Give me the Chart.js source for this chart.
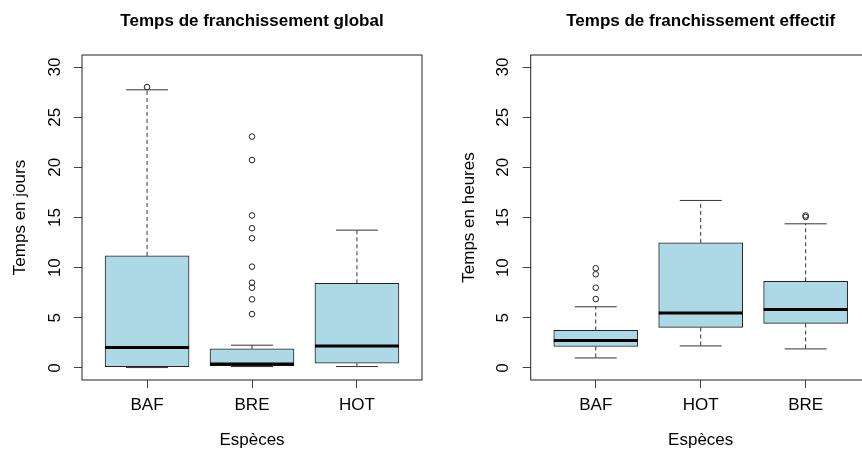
<!DOCTYPE html>
<html><head><meta charset="utf-8">
<script src="https://cdn.jsdelivr.net/npm/chart.js@4.4.0/dist/chart.umd.min.js"></script>
<style>
html,body{margin:0;padding:0;background:#fff;overflow:hidden;width:862px;height:450px}
#wrap{position:relative;width:862px;height:450px;overflow:hidden;background:#fff}
.box{position:absolute;top:0;height:450px}
</style></head><body>
<div id="wrap">
<div class="box" style="left:0;width:431px"><canvas id="c1" width="431" height="450"></canvas></div>
<div class="box" style="left:431px;width:449px"><canvas id="c2" width="449" height="450"></canvas></div>
</div>
<script>
// ---- data ----
const yTicks = [0, 5, 10, 15, 20, 25, 30];

// Panel 1 : Temps de franchissement global (jours)
const catsGlobal = ['BAF', 'BRE', 'HOT'];
const lowGlobal  = [0.04, 0.14, 0.14];
const q1Global   = [0.14, 0.24, 0.47];
const medGlobal  = [2.04, 0.40, 2.20];
const q3Global   = [11.17, 1.90, 8.44];
const highGlobal = [27.73, 2.27, 13.74];
const outBAFGlobal = [28.0];
const outBREGlobal = [23.07, 20.73, 15.2, 13.93, 12.93, 10.1, 8.5, 8.0, 6.84, 5.37];
const outHOTGlobal = [];

// Panel 2 : Temps de franchissement effectif (heures)
const catsEff = ['BAF', 'HOT', 'BRE'];
const lowEff  = [1.0, 2.2, 1.9];
const q1Eff   = [2.14, 4.04, 4.44];
const medEff  = [2.74, 5.47, 5.84];
const q3Eff   = [3.74, 12.47, 8.64];
const highEff = [6.1, 16.7, 14.37];
const outBAFEff = [6.87, 8.0, 9.34, 9.94];
const outHOTEff = [];
const outBREEff = [15.05, 15.2];

// ---- drawing ----
const FONT = "'Liberation Sans', Arial, Helvetica, sans-serif";
Chart.defaults.font.family = FONT;
Chart.defaults.color = '#000';

const framePlugin = {
  id: 'frame',
  afterDatasetsDraw(chart) {
    const {ctx, chartArea: a} = chart;
    ctx.save();
    ctx.strokeStyle = '#222';
    ctx.lineWidth = 1;
    ctx.strokeRect(a.left, a.top, a.right - a.left, a.bottom - a.top);
    ctx.restore();
  }
};

function seg(points, dash, width, order, color) {
  return {
    type: 'line', data: points, borderColor: color || '#333', borderWidth: width || 1,
    borderDash: dash || [], pointRadius: 0, fill: false, tension: 0,
    order: order === undefined ? 5 : order
  };
}

function makeChart(id, cats, low, q1, med, q3, high, outs, title, ytitle, padLeft, padRight) {
  const xs = cats.map((c, i) => i + 1);
  const datasets = [];
  datasets.push({
    type: 'bar',
    data: xs.map((x, i) => ({x: x, y: [q1[i], q3[i]]})),
    backgroundColor: '#ADD8E6', borderColor: '#222', borderWidth: 1,
    borderSkipped: false, barThickness: 84, order: 10
  });
  xs.forEach((x, i) => {
    datasets.push(seg([{x: x, y: q3[i]}, {x: x, y: high[i]}], [4, 3]));
    datasets.push(seg([{x: x, y: q1[i]}, {x: x, y: low[i]}], [4, 3]));
    datasets.push(seg([{x: x - 0.2, y: high[i]}, {x: x + 0.2, y: high[i]}]));
    datasets.push(seg([{x: x - 0.2, y: low[i]}, {x: x + 0.2, y: low[i]}]));
    datasets.push(seg([{x: x - 0.4, y: med[i]}, {x: x + 0.4, y: med[i]}], [], 3, 1, '#000'));
  });
  datasets.push({
    type: 'scatter',
    data: outs.flatMap((arr, i) => arr.map(v => ({x: xs[i], y: v}))),
    pointStyle: 'circle', pointRadius: 2.8, borderColor: '#222', borderWidth: 1,
    backgroundColor: 'rgba(0,0,0,0)', order: 0
  });

  return new Chart(document.getElementById(id), {
    type: 'bar',
    data: {datasets},
    plugins: [framePlugin],
    options: {
      responsive: false, animation: false, devicePixelRatio: 1,
      layout: {padding: {left: padLeft, right: padRight, top: 0, bottom: 0}},
      plugins: {
        legend: {display: false}, tooltip: {enabled: false},
        title: {
          display: true, text: title, fullSize: false, color: '#000',
          font: {size: 17, weight: 'bold', family: FONT},
          padding: {top: 11.6, bottom: 23}
        }
      },
      scales: {
        x: {
          type: 'linear', min: 0.38, max: 3.62, offset: false,
          afterBuildTicks: s => { s.ticks = xs.map(v => ({value: v})); },
          afterFit: s => { s.height = 70; },
          ticks: {callback: (v, i) => cats[i], font: {size: 17}, color: '#000', padding: 7.6,
                  maxRotation: 0, autoSkip: false},
          grid: {display: true, drawOnChartArea: false, drawTicks: true, tickLength: 8,
                 color: '#444', offset: false},
          border: {display: false},
          title: {display: true, text: 'Espèces', font: {size: 17}, color: '#000',
                  padding: {top: 0, bottom: -1}}
        },
        y: {
          type: 'linear', min: -1.2, max: 31.2,
          afterBuildTicks: s => { s.ticks = yTicks.map(v => ({value: v})); },
          afterFit: s => { s.width = 82; },
          ticks: {font: {size: 17}, color: '#000', padding: 9.5, minRotation: 90, maxRotation: 90,
                  crossAlign: 'center', autoSkip: false},
          grid: {display: true, drawOnChartArea: false, drawTicks: true, tickLength: 8, color: '#444'},
          border: {display: false},
          title: {display: true, text: ytitle, font: {size: 17}, color: '#000',
                  padding: {top: 10, bottom: 0}}
        }
      }
    }
  });
}

makeChart('c1', catsGlobal, lowGlobal, q1Global, medGlobal, q3Global, highGlobal,
  [outBAFGlobal, outBREGlobal, outHOTGlobal],
  'Temps de franchissement global', 'Temps en jours', 0, 9);
makeChart('c2', catsEff, lowEff, q1Eff, medEff, q3Eff, highEff,
  [outBAFEff, outHOTEff, outBREEff],
  'Temps de franchissement effectif', 'Temps en heures', 17.7, 9.3);
</script>
</body></html>
